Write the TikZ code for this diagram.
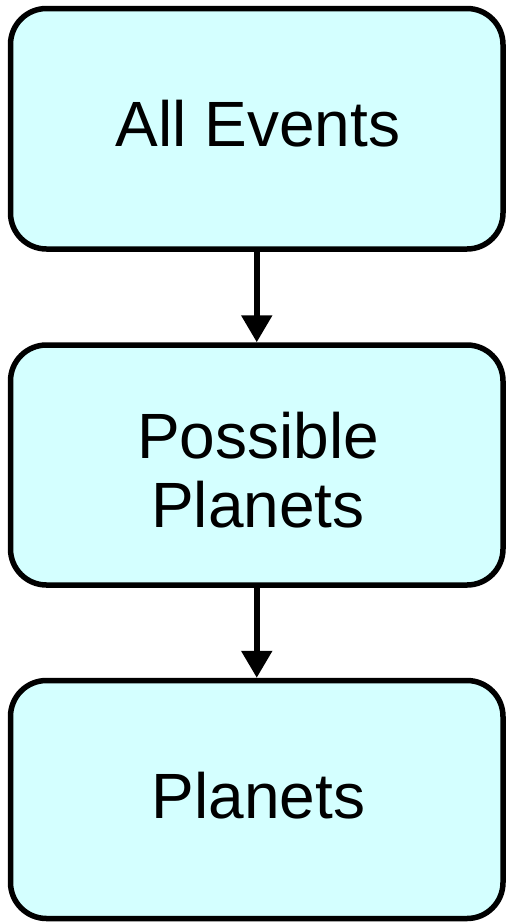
\documentclass[tikz,border=0pt]{standalone}
\usepackage{fontspec}
\setmainfont{Liberation Sans}
\usetikzlibrary{arrows.meta}
\definecolor{boxfill}{RGB}{212,255,255}
\tikzset{
  stagebox/.style={draw=black, line width=5.5pt, fill=boxfill, rounded corners=36pt,
    minimum width=492.5pt, inner sep=0pt},
  stagetext/.style={align=center, inner sep=0pt, font=\fontsize{64}{69}\selectfont},
  flowarrow/.style={line width=5.5pt, -{Triangle[length=27pt,width=30pt]}}
}
\begin{document}
\begin{tikzpicture}[x=1pt,y=1pt]
\useasboundingbox (0,0) rectangle (507,-922);
\node[stagebox, minimum height=240.5pt] (all) at (256.75,-128.75) {};
\node[stagebox, minimum height=240pt] (poss) at (256.75,-465) {};
\node[stagebox, minimum height=238pt] (plan) at (256.75,-799.5) {};
\node[stagetext, anchor=base] (allt) at (258,-146.7) {All Events};
\node[stagetext] (posst) at (258,-470.5) {Possible\\Planets};
\node[stagetext, anchor=base] (plant) at (258.5,-818.3) {Planets};
\draw[flowarrow] (all.south) -- (poss.north);
\draw[flowarrow] (poss.south) -- (plan.north);
\end{tikzpicture}
\end{document}
